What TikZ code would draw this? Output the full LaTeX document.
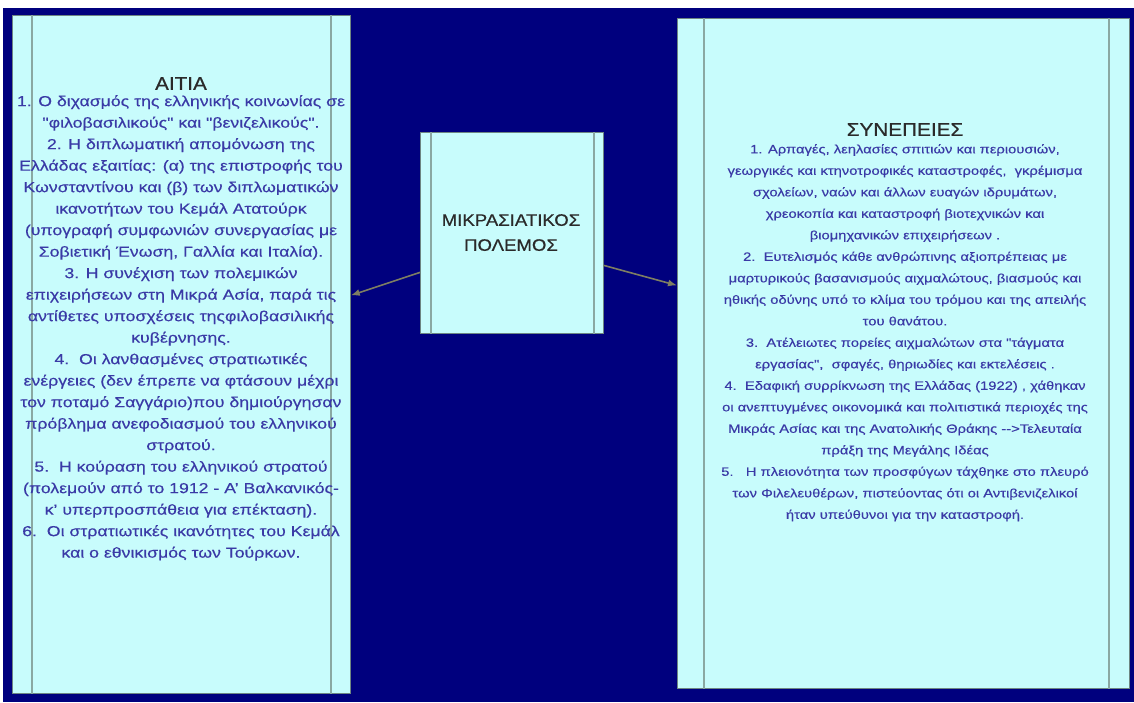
\documentclass[tikz,border=0pt]{standalone}
\usepackage{fontspec}
\setmainfont{Liberation Sans}[Ligatures=TeXOff]
\newfontfamily\bodyfont{Liberation Sans}[Ligatures=TeXOff, FakeStretch=1.22, FakeBold=0.35]
\newfontfamily\headfont{Liberation Sans}[Ligatures=TeXOff, FakeStretch=1.12, FakeBold=0.6]
\usetikzlibrary{arrows.meta}
\definecolor{navy}{HTML}{00007E}
\definecolor{boxfill}{HTML}{C8FCFC}
\definecolor{inner}{HTML}{8AA8A2}
\definecolor{bodyblue}{HTML}{3A3AA6}
\definecolor{headc}{HTML}{2A2A2A}
\definecolor{arrc}{HTML}{7E7E62}
\tikzset{
  panel/.style={draw=inner!80!black, line width=0.8pt, fill=boxfill, inner sep=0pt, anchor=north west},
  divider/.style={draw=inner, line width=1.4pt},
  bodytxt/.style={text=bodyblue, align=center, inner sep=0pt, anchor=north},
  headtxt/.style={text=headc, inner sep=0pt, anchor=north},
  arr/.style={draw=arrc, line width=1.6pt, -{Latex[length=9pt,width=7pt]}}
}
\begin{document}
\begin{tikzpicture}[x=1pt,y=-1pt]
\useasboundingbox (0,0) rectangle (1134,702);
\fill[white] (0,0) rectangle (1134,702);
\fill[navy] (3,8) rectangle (1134,702);
% panels
\node[panel, minimum width=338pt, minimum height=678pt] (L) at (12,15) {};
\node[panel, minimum width=183pt, minimum height=201pt] (C) at (420,132) {};
\node[panel, minimum width=452pt, minimum height=670pt] (R) at (677,18) {};
% dividers
\draw[divider] ([xshift=20pt]L.north west) -- ([xshift=20pt]L.south west);
\draw[divider] ([xshift=-20pt]L.north east) -- ([xshift=-20pt]L.south east);
\draw[divider] ([xshift=11pt]C.north west) -- ([xshift=11pt]C.south west);
\draw[divider] ([xshift=-10pt]C.north east) -- ([xshift=-10pt]C.south east);
\draw[divider] ([xshift=27pt]R.north west) -- ([xshift=27pt]R.south west);
\draw[divider] ([xshift=-21pt]R.north east) -- ([xshift=-21pt]R.south east);
% texts
\node[headtxt, font=\headfont\fontsize{18.5}{22}\selectfont] (Lh) at (181,77) {ΑΙΤΙΑ};
\node[bodytxt, font=\bodyfont\fontsize{14.5}{21.5}\selectfont] (Lb) at (181,95) {%
1. Ο διχασμός της ελληνικής κοινωνίας σε\\
"φιλοβασιλικούς" και "βενιζελικούς".\\
2. Η διπλωματική απομόνωση της\\
Ελλάδας εξαιτίας: (α) της επιστροφής του\\
Κωνσταντίνου και (β) των διπλωματικών\\
ικανοτήτων του Κεμάλ Ατατούρκ\\
(υπογραφή συμφωνιών συνεργασίας με\\
Σοβιετική Ένωση, Γαλλία και Ιταλία).\\
3. Η συνέχιση των πολεμικών\\
επιχειρήσεων στη Μικρά Ασία, παρά τις\\
αντίθετες υποσχέσεις τηςφιλοβασιλικής\\
κυβέρνησης.\\
4.\ \ Οι λανθασμένες στρατιωτικές\\
ενέργειες (δεν έπρεπε να φτάσουν μέχρι\\
τον ποταμό Σαγγάριο)που δημιούργησαν\\
πρόβλημα ανεφοδιασμού του ελληνικού\\
στρατού.\\
5.\ \ Η κούραση του ελληνικού στρατού\\
(πολεμούν από το 1912 - Α’ Βαλκανικός-\\
κ’ υπερπροσπάθεια για επέκταση).\\
6.\ \ Οι στρατιωτικές ικανότητες του Κεμάλ\\
και ο εθνικισμός των Τούρκων.};
\node[headtxt, align=center, font=\headfont\fontsize{16.6}{25}\selectfont] (Ch) at (511,214) {ΜΙΚΡΑΣΙΑΤΙΚΟΣ\\ΠΟΛΕΜΟΣ};
\node[headtxt, font=\headfont\fontsize{18.5}{22}\selectfont] (Rh) at (905,123) {ΣΥΝΕΠΕΙΕΣ};
\node[bodytxt, font=\bodyfont\fontsize{12.1}{21.5}\selectfont] (Rb) at (905,144) {%
1. Αρπαγές, λεηλασίες σπιτιών και περιουσιών,\\
γεωργικές και κτηνοτροφικές καταστροφές,\ \ γκρέμισμα\\
σχολείων, ναών και άλλων ευαγών ιδρυμάτων,\\
χρεοκοπία και καταστροφή βιοτεχνικών και\\
βιομηχανικών επιχειρήσεων .\\
2.\ \ Ευτελισμός κάθε ανθρώπινης αξιοπρέπειας με\\
μαρτυρικούς βασανισμούς αιχμαλώτους, βιασμούς και\\
ηθικής οδύνης υπό το κλίμα του τρόμου και της απειλής\\
του θανάτου.\\
3.\ \ Ατέλειωτες πορείες αιχμαλώτων στα "τάγματα\\
εργασίας",\ \ σφαγές, θηριωδίες και εκτελέσεις .\\
4.\ \ Εδαφική συρρίκνωση της Ελλάδας (1922) , χάθηκαν\\
οι ανεπτυγμένες οικονομικά και πολιτιστικά περιοχές της\\
Μικράς Ασίας και της Ανατολικής Θράκης -->Τελευταία\\
πράξη της Μεγάλης Ιδέας\\
5.\ \ \ Η πλειονότητα των προσφύγων τάχθηκε στο πλευρό\\
των Φιλελευθέρων, πιστεύοντας ότι οι Αντιβενιζελικοί\\
ήταν υπεύθυνοι για την καταστροφή.};
% arrows
\draw[arr] ([yshift=-39.5pt]C.west) -- ([yshift=59pt]L.east);
\draw[arr] ([yshift=-32.5pt]C.east) -- ([yshift=68pt]R.west);
\end{tikzpicture}
\end{document}
